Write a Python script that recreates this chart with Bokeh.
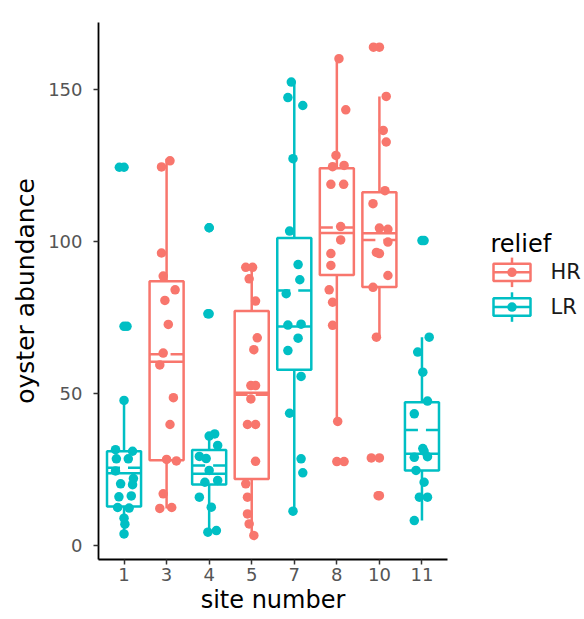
import numpy as np
from bokeh.plotting import figure
from bokeh.models import Range1d, FixedTicker, ColumnDataSource, CustomJSTickFormatter
from bokeh.layouts import row
from bokeh.core.properties import value
from bokeh.embed import file_html
from bokeh.resources import INLINE

# ---------------- data ----------------
sites = ["1", "3", "4", "5", "7", "8", "10", "11"]
relief = ["LR", "HR", "LR", "HR", "LR", "HR", "HR", "LR"]
whisker_low = [3.8, 12.2, 4.4, 3.3, 11.3, 40.8, 68.5, 8.2]
box_q1 = [12.8, 28.0, 20.1, 21.9, 57.8, 89.0, 85.0, 24.7]
box_median = [23.8, 60.4, 23.6, 50.2, 72.0, 102.8, 102.7, 30.2]
box_mean = [25.6, 62.9, 26.3, 49.6, 83.9, 104.6, 100.5, 38.0]
box_q3 = [31.0, 86.9, 31.4, 77.1, 101.1, 124.1, 116.2, 47.1]
whisker_high = [47.7, 127.2, 36.7, 91.5, 152.4, 160.1, 147.7, 68.5]

site1_vals = [124.4, 72.1, 47.7, 31.5, 31.0, 28.5, 28.5, 24.5, 22.0, 20.3, 20.0, 16.0, 16.3, 12.5, 12.3, 9.0, 7.0, 3.8]
site1_jit = [-0.11, 0.07, 0.0, -0.20, 0.20, -0.18, 0.10, -0.20, 0.22, -0.08, 0.20, -0.12, 0.17, -0.15, 0.12, 0.0, 0.02, 0.0]
site3_vals = [126.5, 124.5, 96.2, 88.6, 84.1, 80.6, 72.7, 63.3, 59.4, 48.6, 39.8, 28.3, 27.8, 17.0, 12.2, 12.5]
site3_jit = [0.08, -0.12, -0.12, -0.08, 0.20, -0.04, 0.04, -0.08, -0.16, 0.16, 0.08, 0.0, 0.23, -0.08, -0.16, 0.12]
site4_vals = [104.5, 76.2, 36.7, 36.0, 32.9, 29.3, 28.6, 24.7, 21.4, 20.8, 15.9, 12.6, 4.9, 4.4]
site4_jit = [0.0, -0.03, 0.13, 0.0, 0.20, -0.23, -0.07, 0.0, 0.20, -0.10, -0.23, 0.05, 0.17, -0.03]
site5_vals = [91.5, 91.5, 87.7, 80.4, 68.3, 64.4, 52.6, 52.6, 48.2, 39.8, 39.8, 27.7, 20.3, 15.9, 10.4, 7.1, 3.3]
site5_jit = [-0.14, 0.02, -0.06, 0.09, 0.13, 0.05, -0.02, 0.09, -0.02, -0.10, 0.09, 0.09, -0.14, -0.10, -0.10, -0.06, 0.05]
site7_vals = [152.4, 147.3, 144.7, 127.2, 103.4, 92.4, 87.4, 82.8, 72.5, 72.8, 68.2, 64.1, 55.6, 43.5, 28.5, 23.9, 11.3]
site7_jit = [-0.07, -0.15, 0.20, -0.03, -0.11, 0.09, 0.13, -0.19, -0.15, 0.16, 0.09, -0.15, 0.16, -0.11, 0.16, 0.20, -0.03]
site8_vals = [160.1, 143.3, 128.3, 124.6, 125.0, 118.8, 118.8, 104.9, 100.5, 96.0, 92.1, 84.1, 80.0, 72.4, 40.8, 27.6]
site8_jit = [0.05, 0.21, -0.02, -0.10, 0.17, -0.14, 0.16, 0.09, 0.09, -0.14, -0.14, -0.18, -0.10, -0.10, 0.02, 0.17]
site10_vals = [163.9, 147.7, 136.5, 132.7, 116.7, 112.4, 104.4, 104.0, 99.8, 96.4, 96.0, 88.8, 84.9, 68.5, 28.8, 16.4]
site10_jit = [-0.14, 0.16, 0.09, 0.16, 0.13, -0.15, 0.0, 0.20, 0.20, -0.07, 0.0, 0.20, -0.15, -0.07, -0.19, -0.03]
site11_vals = [100.3, 68.5, 63.6, 57.0, 47.5, 43.3, 31.9, 31.0, 29.0, 29.2, 24.7, 20.8, 15.9, 15.9, 8.2]
site11_jit = [0.05, 0.17, -0.10, 0.02, 0.13, -0.18, 0.02, 0.05, -0.18, 0.13, -0.14, 0.05, -0.06, 0.13, -0.18]

y_ticks = [0, 50, 100, 150]
legend_levels = ["HR", "LR"]
palette = {"HR": "#F8766D", "LR": "#00BFC4"}

site_vals = [site1_vals, site3_vals, site4_vals, site5_vals, site7_vals, site8_vals, site10_vals, site11_vals]
site_jit = [site1_jit, site3_jit, site4_jit, site5_jit, site7_jit, site8_jit, site10_jit, site11_jit]

# ---------------- main figure ----------------
FONT = "DejaVu Sans"
LW = 2.5
PT = 9.5
pos = np.arange(1, len(sites) + 1, dtype=float)
cols = [palette[r] for r in relief]
half = 0.4

p = figure(width=460, height=619, x_range=Range1d(0.4, 8.6), y_range=Range1d(-4.6, 172),
           output_backend="svg", toolbar_location=None,
           min_border_left=98, min_border_right=13, min_border_top=22, min_border_bottom=60)
p.grid.visible = False
p.outline_line_color = None
p.background_fill_color = "white"
p.border_fill_color = "white"

box = ColumnDataSource(dict(x=pos, left=pos - half, right=pos + half, lo=whisker_low, q1=box_q1,
                            med=box_median, mean=box_mean, q3=box_q3, hi=whisker_high, color=cols))

p.segment(x0="x", y0="q3", x1="x", y1="hi", source=box, line_color="color", line_width=LW)
p.segment(x0="x", y0="q1", x1="x", y1="lo", source=box, line_color="color", line_width=LW)
p.quad(left="left", right="right", bottom="q1", top="q3", source=box, fill_color="white",
       line_color="color", line_width=LW)
p.segment(x0="left", y0="med", x1="right", y1="med", source=box, line_color="color", line_width=LW)
p.segment(x0="left", y0="mean", x1="right", y1="mean", source=box, line_color="color", line_width=LW,
          line_dash="13 8")

# outliers (boxplot) at box centre, and jittered observations
ox, oy, oc = [], [], []
pxs, pys, pcs = [], [], []
for i, (vals, jit) in enumerate(zip(site_vals, site_jit)):
    for v, j in zip(vals, jit):
        pxs.append(pos[i] + j)
        pys.append(v)
        pcs.append(cols[i])
        if v > whisker_high[i] + 0.01 or v < whisker_low[i] - 0.01:
            ox.append(pos[i]); oy.append(v); oc.append(cols[i])

p.scatter(x=ox, y=oy, color=oc, size=PT, line_width=0)
p.scatter(x=pxs, y=pys, color=pcs, size=PT, line_width=0)

# axes
for ax in (p.xaxis[0], p.yaxis[0]):
    ax.axis_line_width = 1.8
    ax.axis_line_color = "black"
    ax.major_tick_line_color = "#333333"
    ax.major_tick_line_width = 1.5
    ax.major_tick_out = 5
    ax.major_tick_in = 0
    ax.minor_tick_line_color = None
    ax.major_label_text_font = FONT
    ax.major_label_text_font_size = "18px"
    ax.major_label_text_color = "#555555"
    ax.axis_label_text_font = FONT
    ax.axis_label_text_font_style = "normal"
    ax.axis_label_text_color = "black"
    ax.axis_label_text_font_size = "24px"

p.xaxis.ticker = FixedTicker(ticks=list(pos))
p.xaxis.formatter = CustomJSTickFormatter(args=dict(labels=sites),
                                          code="return labels[Math.round(tick) - 1] || '';")
p.xaxis.axis_label = "site number"
p.xaxis.major_label_standoff = 3
p.xaxis.axis_label_standoff = 2

p.yaxis.ticker = FixedTicker(ticks=y_ticks)
p.yaxis.axis_label = "oyster abundance"
p.yaxis.major_label_standoff = 11
p.yaxis.axis_label_standoff = 5
p.yaxis.axis_label_text_font_size = "25px"

# ---------------- legend panel ----------------
q = figure(width=124, height=619, x_range=Range1d(460, 584), y_range=Range1d(619, 0),
           output_backend="svg", toolbar_location=None, min_border=0,
           x_axis_location=None, y_axis_location=None)
q.grid.visible = False
q.outline_line_color = None

key_y = np.array([288.0, 328.0])
key_x = 511.5
key_cols = [palette[l] for l in legend_levels]
leg = ColumnDataSource(dict(x=[key_x] * 2, y=key_y, top=key_y - 10, bot=key_y + 10,
                            wt=key_y - 17, wb=key_y + 17, c=key_cols,
                            l=[key_x - 18.5] * 2, r=[key_x + 18.5] * 2,
                            tx=[550.0] * 2, lab=legend_levels))
q.segment(x0="x", y0="wt", x1="x", y1="wb", source=leg, line_color="c", line_width=LW)
q.quad(left="l", right="r", top="top", bottom="bot", source=leg, fill_color="white",
       line_color="c", line_width=LW)
q.segment(x0="l", y0="y", x1="r", y1="y", source=leg, line_color="c", line_width=LW)
q.scatter(x="x", y="y", color="c", size=PT, line_width=0, source=leg)
q.text(x="tx", y="y", text="lab", source=leg, text_font=value(FONT), text_font_size=value("21px"),
       text_baseline="middle", text_align="left", text_color="#1A1A1A")
q.text(x=[490.0], y=[255.0], text=["relief"], text_font=value(FONT), text_font_size=value("24px"),
       text_baseline="alphabetic", text_align="left", text_color="black")

layout = row(p, q)
open("out.html", "w").write(file_html(layout, INLINE))
